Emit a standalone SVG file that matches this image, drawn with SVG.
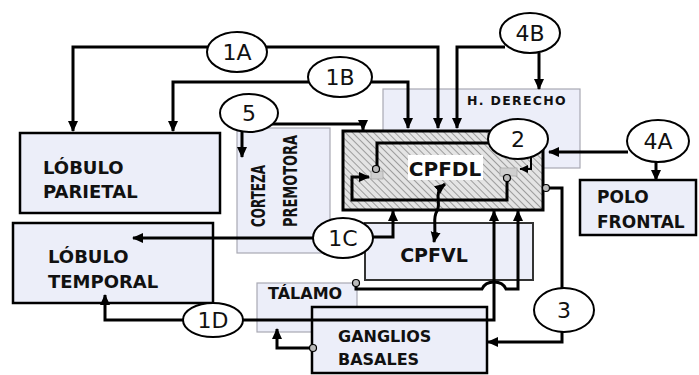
<svg xmlns="http://www.w3.org/2000/svg" width="699" height="375" viewBox="0 0 699 375">
<style>
.box{fill:#eceef9;stroke:#000;stroke-width:2.5}
.gbox{fill:#eceef9;stroke:#a9a9b3;stroke-width:1.2}
.lbl{font-family:"DejaVu Sans","Liberation Sans",sans-serif;font-weight:bold;fill:#111}
.c{fill:#fff;stroke:#000;stroke-width:2}
.ct{font-family:"DejaVu Sans","Liberation Sans",sans-serif;font-size:22px;text-anchor:middle;fill:#111}
.w{fill:none;stroke:#000;stroke-width:3}
.ws{fill:none;stroke:#000;stroke-width:2}
.a{marker-end:url(#ah)}
.dot{fill:#bbb;stroke:#000;stroke-width:1.2}
.pad{fill:#cfcfcf;stroke:#aaa;stroke-width:0.8}
</style>
<defs>
<marker id="ah" markerUnits="userSpaceOnUse" markerWidth="12" markerHeight="12" refX="10" refY="6" orient="auto-start-reverse" viewBox="0 0 12 12">
<path d="M0,1 L11,6 L0,11 z" fill="#000"/>
</marker>
<marker id="as" markerUnits="userSpaceOnUse" markerWidth="9" markerHeight="9" refX="8" refY="4.5" orient="auto" viewBox="0 0 9 9">
<path d="M0,0.5 L8.5,4.5 L0,8.5 z" fill="#000"/>
</marker>
<pattern id="hatch" patternUnits="userSpaceOnUse" width="5" height="5" patternTransform="rotate(-45)">
<rect width="5" height="5" fill="#e4e4e4"/>
<line x1="0" y1="0" x2="0" y2="5" stroke="#8a8a8a" stroke-width="1.6"/>
</pattern>
</defs>

<g id="h-derecho">
<rect class="gbox" x="383" y="89" width="197" height="79"/>
<text class="lbl" x="467" y="105" font-size="12.5" letter-spacing="1.3">H. DERECHO</text>
</g>
<g id="corteza-premotora">
<rect class="gbox" x="237" y="128" width="93" height="125"/>
<text class="lbl" transform="translate(265,227) rotate(-90)" font-size="20" textLength="62" lengthAdjust="spacingAndGlyphs">CORTEZA</text>
<text class="lbl" transform="translate(297,227) rotate(-90)" font-size="20" textLength="92" lengthAdjust="spacingAndGlyphs">PREMOTORA</text>
</g>
<g id="lobulo-parietal">
<rect class="box" x="20" y="133" width="200" height="80"/>
<text class="lbl" x="43" y="174" font-size="18">LÓBULO</text>
<text class="lbl" x="43" y="198" font-size="18">PARIETAL</text>
</g>
<g id="lobulo-temporal">
<rect class="box" x="13" y="223" width="200" height="80"/>
<text class="lbl" x="48" y="263" font-size="18">LÓBULO</text>
<text class="lbl" x="48" y="288" font-size="18">TEMPORAL</text>
</g>
<g id="polo-frontal">
<rect class="box" x="580" y="180" width="116" height="55" stroke-width="2"/>
<text class="lbl" x="597" y="203" font-size="17">POLO</text>
<text class="lbl" x="597" y="228" font-size="17">FRONTAL</text>
</g>
<g id="cpfvl">
<rect x="365" y="223" width="168" height="57" fill="#eceef9" stroke="#333" stroke-width="2"/>
<text class="lbl" x="434" y="262" font-size="19" text-anchor="middle">CPFVL</text>
</g>
<g id="talamo">
<rect class="gbox" x="257" y="283" width="100" height="49"/>
<text class="lbl" x="268" y="299" font-size="16">TÁLAMO</text>
</g>
<g id="ganglios-basales">
<rect class="box" x="312" y="307" width="175" height="66" stroke-width="2"/>
<text class="lbl" x="338" y="342" font-size="16">GANGLIOS</text>
<text class="lbl" x="338" y="365" font-size="16">BASALES</text>
</g>
<g id="cpfdl">
<rect x="343" y="131" width="200" height="79" fill="url(#hatch)" stroke="#000" stroke-width="3"/>
<rect x="408" y="155" width="75" height="25" fill="#fff"/>
<text class="lbl" x="445" y="176" font-size="20" text-anchor="middle">CPFDL</text>
<rect class="pad" x="371" y="171" width="12" height="8"/>
<rect class="pad" x="500" y="168" width="17" height="8"/>
</g>

<g id="connectors">
<path class="w" d="M73,131 V47 H438 V128" marker-start="url(#ah)" marker-end="url(#ah)"/>
<path class="w" d="M173,131 V82 H408 V128" marker-start="url(#ah)" marker-end="url(#ah)"/>
<path class="w" d="M242,157 V124 H363 V130" marker-start="url(#ah)" marker-end="url(#ah)"/>
<path class="w" d="M457,128 V47 H505" marker-start="url(#ah)"/>
<path class="w a" d="M539,53 V89"/>
<path class="w" d="M490,143 H377 V166"/>
<path class="w a" d="M507,180 V200 H352 V177 H369"/>
<path class="ws" d="M531,157 V169 H520" marker-end="url(#as)"/>
<path class="w a" d="M628,152 H549"/>
<path class="w a" d="M656,162 V180"/>
<path class="w a" d="M313,238 H133"/>
<path class="w a" d="M373,237 H393 V211"/>
<path class="w" d="M445,184 C432,194 442,202 437,211 C432,219 437,224 434,242" marker-start="url(#ah)" marker-end="url(#ah)"/>
<path class="w" d="M105,295 V320 H494 V211" marker-start="url(#ah)" marker-end="url(#ah)"/>
<path class="w a" d="M356,286 V289 H482 Q485,282 494,282 Q503,282 506,289 H518 V211"/>
<path class="w a" d="M310,348 H277 V329"/>
<path class="w" d="M550,188 H562 V290"/>
<path class="w a" d="M562,330 V342 H488"/>
<circle class="dot" cx="376" cy="169" r="3.5"/>
<circle class="dot" cx="507" cy="178" r="3.5"/>
<circle class="dot" cx="546" cy="188" r="3.5"/>
<circle class="dot" cx="356" cy="283" r="3.5"/>
<circle class="dot" cx="313" cy="348" r="3.5"/>
</g>

<g id="n1A"><ellipse class="c" cx="237" cy="52" rx="30" ry="20"/><text class="ct" x="237" y="60">1A</text></g>
<g id="n1B"><ellipse class="c" cx="340" cy="77" rx="32" ry="20"/><text class="ct" x="340" y="85">1B</text></g>
<g id="n5"><ellipse class="c" cx="249" cy="113" rx="29" ry="19"/><text class="ct" x="249" y="121">5</text></g>
<g id="n4B"><ellipse class="c" cx="530" cy="33" rx="30" ry="20"/><text class="ct" x="530" y="41">4B</text></g>
<g id="n2"><ellipse class="c" cx="518" cy="139" rx="30" ry="20"/><text class="ct" x="518" y="147">2</text></g>
<g id="n4A"><ellipse class="c" cx="658" cy="141" rx="31" ry="21"/><text class="ct" x="658" y="149">4A</text></g>
<g id="n1C"><ellipse class="c" cx="343" cy="238" rx="30" ry="20"/><text class="ct" x="343" y="246">1C</text></g>
<g id="n1D"><ellipse class="c" cx="213" cy="320" rx="30" ry="17"/><text class="ct" x="213" y="328">1D</text></g>
<g id="n3"><ellipse class="c" cx="564" cy="310" rx="30" ry="22"/><text class="ct" x="564" y="318">3</text></g>
</svg>
